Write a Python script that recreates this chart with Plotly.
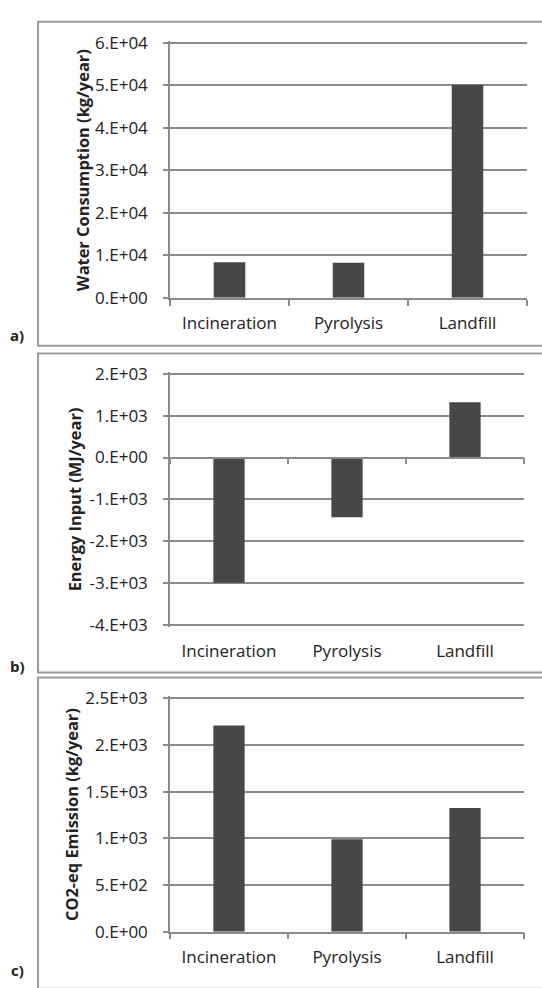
import plotly.graph_objects as go

# ---------------- data ----------------
categories = ["Incineration", "Pyrolysis", "Landfill"]

water_consumption = [8340, 8200, 50100]      # kg/year
energy_input = [-2990, -1425, 1320]          # MJ/year
co2_emission = [2210, 990, 1325]             # kg/year

water_ticks = [0, 10000, 20000, 30000, 40000, 50000, 60000]
water_ticktext = ["0.E+00", "1.E+04", "2.E+04", "3.E+04", "4.E+04", "5.E+04", "6.E+04"]
energy_ticks = [-4000, -3000, -2000, -1000, 0, 1000, 2000]
energy_ticktext = ["-4.E+03", "-3.E+03", "-2.E+03", "-1.E+03", "0.E+00", "1.E+03", "2.E+03"]
co2_ticks = [0, 500, 1000, 1500, 2000, 2500]
co2_ticktext = ["0.E+00", "5.E+02", "1.E+03", "1.5E+03", "2.E+03", "2.5E+03"]

titles = ["Water Consumption (kg/year)", "Energy Input (MJ/year)", "CO2-eq Emission (kg/year)"]
panel_labels = ["a)", "b)", "c)"]

# ---------------- styling ----------------
W, H = 542, 988
FONT = "Open Sans"
TXT = "#222222"
GRID = "#8a8a8a"
BAR = "#474747"
BORDER = "#9a9a9a"


def py(px):  # pixel (from top) -> paper y
    return 1 - px / H


def pxx(px):
    return px / W


fig = go.Figure()

series = [water_consumption, energy_input, co2_emission]
for i, vals in enumerate(series):
    n = "" if i == 0 else str(i + 1)
    fig.add_trace(go.Bar(x=categories, y=vals, marker=dict(color=BAR, line=dict(width=0)),
                         xaxis="x" + n, yaxis="y" + n, showlegend=False))

# plot-area pixel geometry (pixel rows of the first/last tick values)
geo = [
    dict(x0=170, x1=527, top=33.3, bot=294.0, rng=[0, 60000], tv=water_ticks, tt=water_ticktext, xs=9),
    dict(x0=170, x1=524, top=371.7, bot=628.3, rng=[-4000, 2000], tv=energy_ticks, tt=energy_ticktext, xs=12),
    dict(x0=170, x1=524, top=703.3, bot=941.7, rng=[0, 2500], tv=co2_ticks, tt=co2_ticktext, xs=9),
]
PAD = 2.0  # px of padding so the end gridlines are drawn

layout = dict(
    width=W, height=H, margin=dict(l=0, r=0, t=0, b=0),
    paper_bgcolor="white", plot_bgcolor="white",
    font=dict(family=FONT, size=17, color=TXT),
    bargap=0.735, showlegend=False,
)

for i, g in enumerate(geo):
    n = "" if i == 0 else str(i + 1)
    upp = (g["rng"][1] - g["rng"][0]) / (g["bot"] - g["top"])
    axis_at_bottom = (g["rng"][0] == 0)
    lo_pad = 0 if axis_at_bottom else PAD
    rng = [g["rng"][0] - lo_pad * upp, g["rng"][1] + PAD * upp]
    xd = [pxx(g["x0"]), pxx(g["x1"])]
    yd = [py(g["bot"] + lo_pad), py(g["top"] - PAD)]
    g["yd"] = yd
    g["rng2"] = rng
    layout["xaxis" + n] = dict(
        domain=xd, anchor="y" + n, type="category", categoryarray=categories,
        range=[-0.5, 2.5], showgrid=False, zeroline=False,
        showline=axis_at_bottom, linecolor=GRID, linewidth=1.5,
        ticks="outside" if axis_at_bottom else "", tickson="boundaries",
        ticklen=6, tickwidth=1.5, tickcolor=GRID,
        tickfont=dict(family=FONT, size=17, color=TXT), ticklabelstandoff=g["xs"],
    )
    layout["yaxis" + n] = dict(
        domain=yd, anchor="x" + n, range=rng, tickvals=g["tv"], ticktext=g["tt"],
        showgrid=True, gridcolor=GRID, gridwidth=1.5, zeroline=False,
        showline=True, linecolor=GRID, linewidth=1.5,
        ticks="outside", ticklen=5, tickwidth=1.5, tickcolor=GRID,
        tickfont=dict(family=FONT, size=17, color=TXT), ticklabelstandoff=12,
    )

# panel b: horizontal axis crossing at zero (free overlay axis)
gb = geo[1]
d0, d1 = gb["yd"]
r0, r1 = gb["rng2"]
zero_paper = d0 + (0 - r0) / (r1 - r0) * (d1 - d0)
layout["xaxis4"] = dict(
    domain=[pxx(gb["x0"]), pxx(gb["x1"])], anchor="free", position=zero_paper,
    overlaying="x2", type="linear", range=[-0.5, 2.5], tickvals=[-0.5, 0.5, 1.5, 2.5],
    showticklabels=False, showgrid=False, zeroline=False,
    showline=True, linecolor=GRID, linewidth=1.5,
    ticks="outside", ticklen=6, tickwidth=1.5, tickcolor=GRID,
)
fig.add_trace(go.Scatter(x=[None], y=[None], xaxis="x4", yaxis="y2", showlegend=False, hoverinfo="skip"))

fig.update_layout(**layout)

# panel borders
boxes = [(12, 343), (351, 677), (682, 1000)]
for (t, b) in boxes:
    fig.add_shape(type="rect", xref="paper", yref="paper",
                  x0=pxx(38), x1=pxx(560), y0=py(b), y1=py(t),
                  line=dict(color=BORDER, width=2), fillcolor="rgba(0,0,0,0)", layer="below")

# axis titles
title_x = [82, 74, 71]
for i, g in enumerate(geo):
    fig.add_annotation(text="<b>%s</b>" % titles[i], xref="paper", yref="paper",
                       x=pxx(title_x[i]), y=py((g["top"] + g["bot"]) / 2),
                       textangle=-90, showarrow=False, xanchor="center", yanchor="middle",
                       font=dict(family=FONT, size=16.4, color=TXT))

# panel labels
label_y = [332, 670, 981]
for i, lab in enumerate(panel_labels):
    fig.add_annotation(text="<b>%s</b>" % lab, xref="paper", yref="paper",
                       x=pxx(17), y=py(label_y[i]), showarrow=False,
                       xanchor="center", yanchor="middle",
                       font=dict(family=FONT, size=15, color=TXT))

fig.write_html("out.html", config={"displayModeBar": False},
               post_script="document.body.style.margin='0';document.body.style.overflow='hidden';")
